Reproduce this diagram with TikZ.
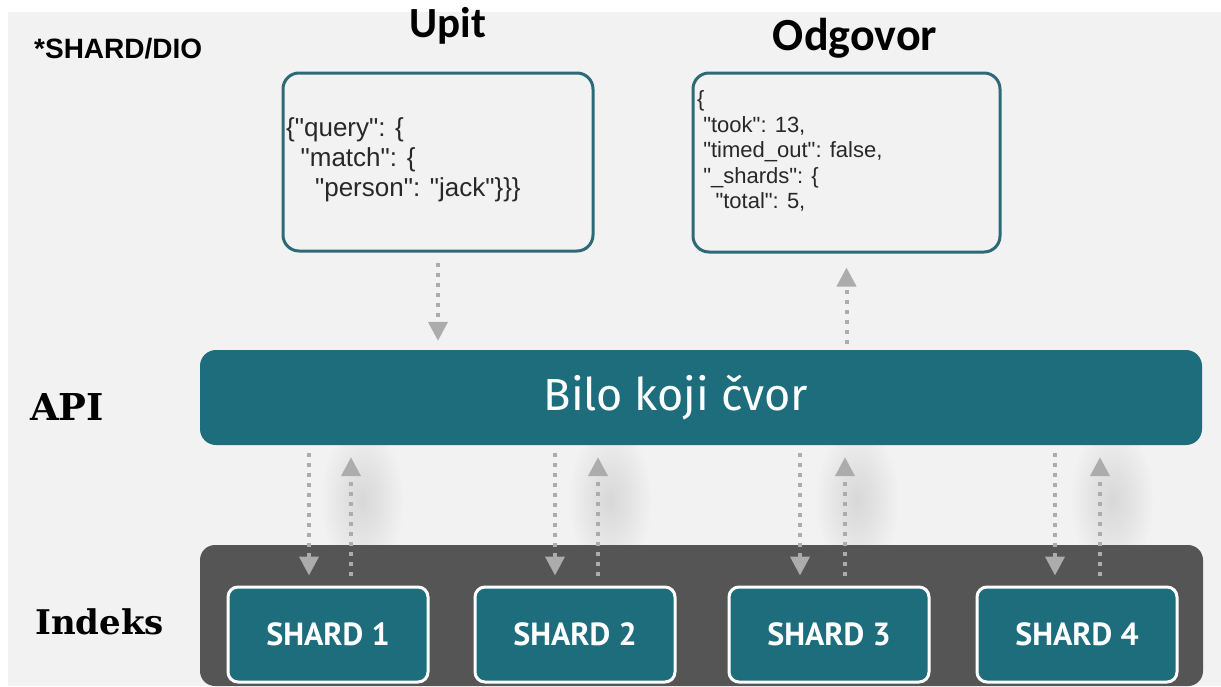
\documentclass[tikz,border=0pt]{standalone}
\usepackage{fontspec}
\setmainfont[Ligatures=TeXOff]{Liberation Sans}
\newfontfamily\headfont{Carlito}
\newfontfamily\barfont{Fira Sans}
\newfontfamily\shardfont{PT Sans}
\newfontfamily\slabfont{DejaVu Serif}
\usetikzlibrary{arrows.meta,fadings}
\definecolor{bg}{RGB}{242,242,242}
\definecolor{teal}{RGB}{29,109,125}
\definecolor{boxline}{RGB}{45,106,120}
\definecolor{dark}{RGB}{85,85,85}
\definecolor{arrgray}{RGB}{172,172,172}
\definecolor{txt}{RGB}{40,40,40}
\tikzfading[name=glowfade, inner color=transparent!0, outer color=transparent!100]
\begin{document}
\begin{tikzpicture}[x=1pt,y=-1pt,
  jsonbox/.style={draw=boxline, line width=3pt, fill=bg, rounded corners=16pt, inner sep=0pt},
  bar/.style={fill=teal, rounded corners=16pt, inner sep=0pt},
  container/.style={fill=dark, rounded corners=15pt, inner sep=0pt},
  shardbox/.style={fill=teal, draw=white, line width=3pt, rounded corners=10pt, minimum width=200pt, minimum height=95pt, inner sep=0pt, text=white, font=\shardfont\bfseries\fontsize{32}{32}\selectfont},
  flow/.style={draw=arrgray, line width=4pt, dash pattern=on 4pt off 6pt, -{Triangle[width=19pt,length=19pt]}},
  sidelabel/.style={anchor=base west, inner sep=0pt, text=black, font=\slabfont\bfseries\fontsize{34}{34}\selectfont},
  title/.style={anchor=base, inner sep=0pt, text=black},
  jsontext/.style={anchor=west, inner sep=0pt, align=left, text=txt}]
\useasboundingbox (0,0) rectangle (1221,686);
\fill[white] (0,0) rectangle (1221,686);
\fill[bg] (8,12) rectangle (1221,686);

% soft shadows behind the arrow pairs
\foreach \gx in {362,610,857,1112}{
  \fill[black, opacity=0.11, path fading=glowfade] (\gx,500) ellipse (42 and 75);
}

% titles
\node[anchor=base west, inner sep=0pt, font=\bfseries\fontsize{28}{28}\selectfont] (tag) at (34,58) {*SHARD/DIO};
\node[title, font=\headfont\bfseries\fontsize{43}{43}\selectfont] (upitT) at (448,37) {Upit};
\node[title, font=\headfont\bfseries\fontsize{46}{46}\selectfont] (odgT) at (855,50) {Odgovor};

% json boxes
\node[jsonbox, minimum width=310pt, minimum height=178pt] (upit) at (438,162) {};
\node[jsonbox, minimum width=307pt, minimum height=179pt] (odg) at (846.5,162.5) {};
\node[jsontext, font=\fontsize{26}{30}\selectfont] (qtext) at (286,160)
  {\{"query": \{\\
   \ \ "match": \{\\
   \ \ \ \ "person": "jack"\}\}\}};
\node[jsontext, font=\fontsize{22}{25.5}\selectfont] (rtext) at (697,151)
  {\{\\
   \ "took": 13,\\
   \ "timed\_out": false,\\
   \ "\_shards": \{\\
   \ \ \ "total": 5,};

% API bar
\node[bar, minimum width=1002pt, minimum height=95pt] (bar) at (701,397.5) {};
\node[anchor=base, inner sep=0pt, text=white, font=\barfont\fontsize{45}{45}\selectfont] (barT) at (676,410) {Bilo koji čvor};
\node[sidelabel, font=\slabfont\bfseries\fontsize{37}{37}\selectfont] (api) at (30,420) {API};

% index container and shards
\node[container, minimum width=1003pt, minimum height=141pt] (idx) at (701.5,615.5) {};
\node[sidelabel] (indeks) at (35,634) {Indeks};
\node[shardbox] (s1) at (328,634.5) {SHARD 1};
\node[shardbox] (s2) at (575,634.5) {SHARD 2};
\node[shardbox] (s3) at (829,634.5) {SHARD 3};
\node[shardbox] (s4) at (1077,634.5) {SHARD 4};

% query / response arrows
\draw[flow, shorten <=10pt, shorten >=9pt] (upit.south) -- (upit.south |- bar.north);
\draw[flow, shorten <=6pt, shorten >=14pt] (odg.south |- bar.north) -- (odg.south);

% arrows between the bar and the shards
\foreach \s/\dx/\ux in {s1/-19/23, s2/-20/23, s3/-29/16, s4/-22/23}{
  \coordinate (d\s) at ([xshift=\dx pt]\s.north);
  \coordinate (u\s) at ([xshift=\ux pt]\s.north);
  \draw[flow, shorten <=8pt, shorten >=10pt] (d\s |- bar.south) -- (d\s);
  \draw[flow, shorten <=10pt, shorten >=12pt] (u\s) -- (u\s |- bar.south);
}
\end{tikzpicture}
\end{document}
